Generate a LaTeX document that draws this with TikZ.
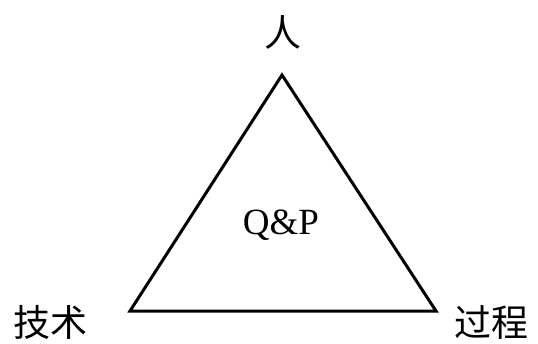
\documentclass[tikz,border=0pt]{standalone}
\usepackage{fontspec}
\setmainfont{Liberation Serif}
\newfontfamily\cjk{Noto Sans CJK SC}
\begin{document}
\begin{tikzpicture}[x=1pt,y=1pt,
  cjklabel/.style={font=\cjk\fontsize{37}{40}\selectfont, inner sep=0pt},
  edge/.style={line width=3pt, line join=miter}]
\useasboundingbox (0,0) rectangle (538,343);
\coordinate (A) at (282,268);
\coordinate (B) at (130,32);
\coordinate (C) at (436,32);
\draw[edge] (A) -- (B) -- (C) -- cycle;
\node[cjklabel] (ren) at (283,311) {人};
\node[cjklabel] (jishu) at (50,21) {技术};
\node[cjklabel] (guocheng) at (491,21) {过程};
\node[font=\fontsize{37}{40}\selectfont, inner sep=0pt] (qp) at (281,118) {Q\&P};
\end{tikzpicture}
\end{document}
